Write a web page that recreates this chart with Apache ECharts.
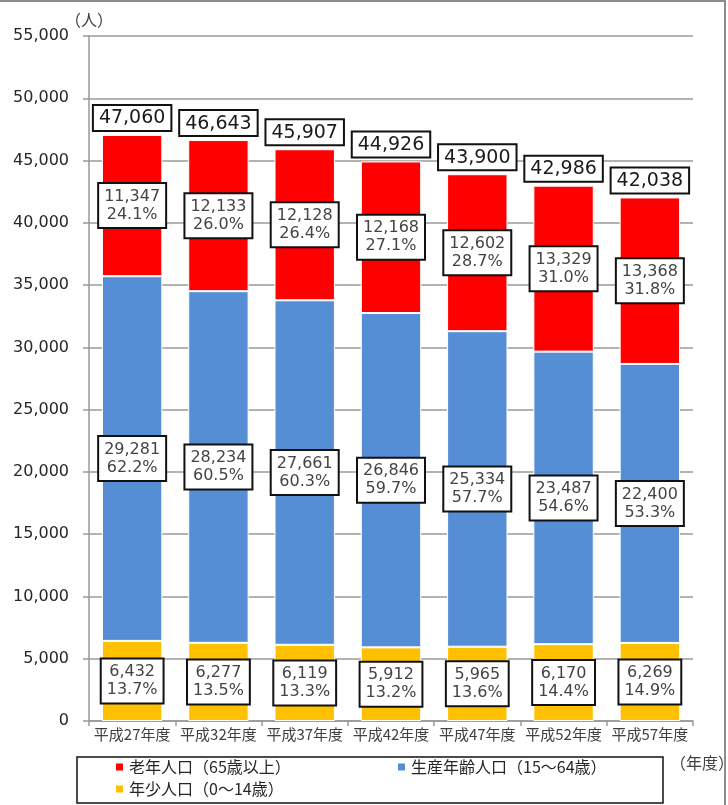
<!DOCTYPE html>
<html>
<head>
<meta charset="utf-8">
<script src="https://cdn.jsdelivr.net/npm/echarts@6/dist/echarts.min.js"></script>
<style>
  html, body { margin: 0; padding: 0; background: #fff; }
  #main { width: 728px; height: 805px; }
</style>
</head>
<body>
<div id="main"></div>
<script>
// 年度
var years = ["平成27年度", "平成32年度", "平成37年度", "平成42年度", "平成47年度", "平成52年度", "平成57年度"];
// 老年人口（65歳以上）
var elderly = [11347, 12133, 12128, 12168, 12602, 13329, 13368];
var elderlyPct = ["24.1", "26.0", "26.4", "27.1", "28.7", "31.0", "31.8"];
// 生産年齢人口（15～64歳）
var working = [29281, 28234, 27661, 26846, 25334, 23487, 22400];
var workingPct = ["62.2", "60.5", "60.3", "59.7", "57.7", "54.6", "53.3"];
// 年少人口（0～14歳）
var young = [6432, 6277, 6119, 5912, 5965, 6170, 6269];
var youngPct = ["13.7", "13.5", "13.3", "13.2", "13.6", "14.4", "14.9"];
// 総人口
var totals = [47060, 46643, 45907, 44926, 43900, 42986, 42038];

var numFont = "'DejaVu Sans', 'Noto Sans CJK JP', sans-serif";
var jpFont = "'Noto Sans CJK JP', sans-serif";

function fmt(v) {
    return v.toLocaleString("en-US");
}

var innerLabel = function (pcts) {
    return {
        show: true,
        position: "inside",
        formatter: function (p) {
            return fmt(p.value) + "\n" + pcts[p.dataIndex] + "%";
        },
        fontFamily: numFont,
        fontSize: 16,
        lineHeight: 18,
        color: "#444",
        backgroundColor: "#fff",
        borderColor: "#111",
        borderWidth: 2,
        padding: [4, 5, 3, 5]
    };
};

var names = ["老年人口（65歳以上）", "生産年齢人口（15～64歳）", "年少人口（0～14歳）"];

var legendBase = function (name, left, top) {
    return {
        data: [name],
        left: left,
        top: top,
        padding: 0,
        icon: "rect",
        itemWidth: 9,
        itemHeight: 9,
        itemGap: 0,
        textStyle: { fontFamily: jpFont, fontSize: 16, color: "#262626" }
    };
};

var myChart = echarts.init(document.getElementById("main"), null, { renderer: "canvas" });

var option = {
    animation: false,
    backgroundColor: "#fff",
    grid: { left: 89, right: 35, top: 36, bottom: 84 },
    legend: [
        legendBase(names[0], 114, 759),
        legendBase(names[1], 396, 759),
        legendBase(names[2], 114, 781)
    ],
    graphic: [
        {
            type: "rect",
            shape: { x: -2, y: 1, width: 727, height: 810 },
            style: { fill: null, stroke: "#8c8c8c", lineWidth: 2 },
            silent: true
        },
        {
            type: "rect",
            shape: { x: 77, y: 757, width: 586, height: 46 },
            style: { fill: null, stroke: "#111", lineWidth: 1.5 },
            silent: true
        },
        {
            type: "text",
            left: 670,
            top: 755,
            style: { text: "（年度）", font: "16px " + jpFont, fill: "#404040" }
        }
    ],
    xAxis: {
        type: "category",
        data: years,
        axisLine: { lineStyle: { color: "#999", width: 1.5 } },
        axisTick: { show: true, length: 5, lineStyle: { color: "#999", width: 1.5 } },
        axisLabel: { interval: 0, fontFamily: jpFont, fontSize: 15, color: "#404040", margin: 6 }
    },
    yAxis: {
        type: "value",
        min: 0,
        max: 55000,
        interval: 5000,
        name: "（人）",
        nameGap: 6,
        nameTextStyle: { fontFamily: jpFont, fontSize: 16, color: "#404040", align: "center" },
        axisLine: { show: true, lineStyle: { color: "#999", width: 1.5 } },
        axisTick: { show: true, length: 6, lineStyle: { color: "#999", width: 1.5 } },
        splitLine: { lineStyle: { color: "#9a9a9a", width: 1.5 } },
        axisLabel: {
            fontFamily: numFont,
            fontSize: 16,
            color: "#262626",
            margin: 20,
            formatter: function (v) { return fmt(v); }
        }
    },
    series: [
        {
            name: names[2],
            type: "bar",
            stack: "pop",
            barWidth: "70%",
            data: young,
            itemStyle: { color: "#FFC000", borderColor: "#fff", borderWidth: 1 },
            label: innerLabel(youngPct)
        },
        {
            name: names[1],
            type: "bar",
            stack: "pop",
            data: working,
            itemStyle: { color: "#558ED5", borderColor: "#fff", borderWidth: 1 },
            label: innerLabel(workingPct)
        },
        {
            name: names[0],
            type: "bar",
            stack: "pop",
            data: elderly,
            itemStyle: { color: "#FF0000", borderColor: "#fff", borderWidth: 1 },
            label: innerLabel(elderlyPct)
        },
        {
            name: "総数",
            type: "bar",
            stack: "pop",
            data: totals.map(function () { return 0; }),
            itemStyle: { color: "transparent" },
            label: {
                show: true,
                position: "top",
                distance: 5,
                formatter: function (p) { return fmt(totals[p.dataIndex]); },
                fontFamily: numFont,
                fontSize: 19,
                color: "#1a1a1a",
                backgroundColor: "#fff",
                borderColor: "#111",
                borderWidth: 2,
                padding: [3, 5, 2, 5]
            }
        }
    ]
};

myChart.setOption(option);
</script>
</body>
</html>
